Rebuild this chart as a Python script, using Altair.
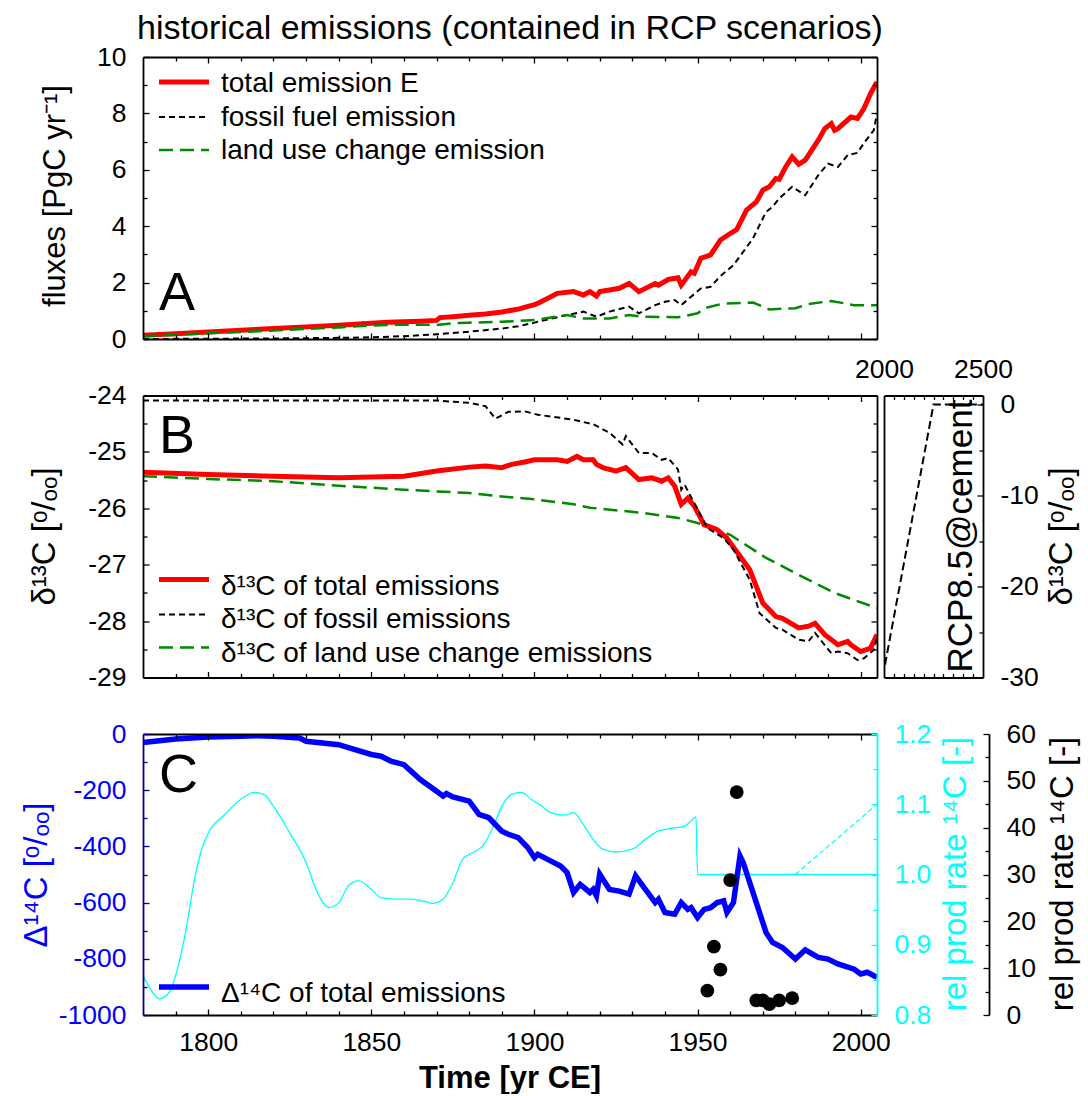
import altair as alt
import pandas as pd

FONT = "Liberation Sans"
RED = "#ff0000"
GREEN = "#008a00"
BLUE = "#0000ff"
NAVY = "#000090"
CYAN = "#00ffff"

# ---------------- shared x range ----------------
X_DOM = [1780, 2005]
X_LABELS = [1800, 1850, 1900, 1950, 2000]
X_MINOR = [1790, 1810, 1820, 1830, 1840, 1860, 1870, 1880, 1890, 1910,
           1920, 1930, 1940, 1960, 1970, 1980, 1990]

# ---------------- panel A: fluxes ----------------
A_Y_DOM = [0, 10]
A_Y_MAJOR = [0, 2, 4, 6, 8, 10]
A_Y_MINOR = [1, 3, 5, 7, 9]
a_total_year = [1780, 1790, 1800, 1810, 1820, 1830, 1840, 1850,
                1855, 1860, 1865, 1870, 1871, 1875, 1880, 1885, 1890, 1895, 1900,
                1901, 1907, 1912, 1915, 1917, 1919, 1920, 1923, 1926, 1929,
                1932, 1937, 1938, 1941, 1944, 1945, 1948, 1949, 1951, 1954,
                1957, 1960, 1962, 1965, 1968, 1970, 1972, 1974, 1975, 1977,
                1979, 1981, 1983, 1987, 1989, 1991, 1992, 1993, 1997, 1999,
                2001, 2003, 2005]
a_total_val = [0.13, 0.19, 0.25, 0.31, 0.37, 0.43, 0.49, 0.56,
               0.59, 0.61, 0.63, 0.66, 0.76, 0.79, 0.84, 0.89, 0.96, 1.06, 1.22,
               1.26, 1.62, 1.68, 1.56, 1.68, 1.52, 1.68, 1.74, 1.80, 1.97,
               1.68, 1.97, 1.91, 2.11, 2.17, 1.91, 2.38, 2.33, 2.86, 2.98,
               3.51, 3.74, 3.88, 4.57, 4.86, 5.28, 5.40, 5.69, 5.66, 6.10,
               6.46, 6.20, 6.34, 7.05, 7.46, 7.64, 7.40, 7.46, 7.87, 7.82,
               8.17, 8.70, 9.11]
a_fossil_year = [1780, 1800, 1820, 1840, 1850, 1860, 1870, 1880, 1890, 1895,
                 1900, 1901, 1910, 1915, 1919, 1923, 1929, 1932, 1937, 1940,
                 1943, 1945, 1948, 1951, 1954, 1957, 1961, 1967, 1971, 1973,
                 1975, 1979, 1983, 1987, 1990, 1993, 1996, 1999, 2001, 2004,
                 2005]
a_fossil_val = [0.00, 0.01, 0.02, 0.04, 0.06, 0.10, 0.17, 0.26, 0.37, 0.45,
                0.58, 0.61, 0.85, 0.97, 0.79, 0.97, 1.15, 0.91, 1.20, 1.32,
                1.38, 1.20, 1.50, 1.79, 1.85, 2.23, 2.62, 3.57, 4.51, 4.69,
                4.98, 5.40, 5.10, 5.81, 6.22, 6.10, 6.52, 6.60, 6.95, 7.40,
                7.99]
a_land_year = [1780, 1800, 1820, 1840, 1850, 1860, 1870, 1875, 1880, 1890,
               1900, 1910, 1915, 1923, 1929, 1933, 1944, 1950, 1952, 1958,
               1967, 1972, 1980, 1984, 1991, 1998, 2005]
a_land_val = [0.10, 0.20, 0.30, 0.41, 0.48, 0.51, 0.50, 0.56, 0.58, 0.61,
              0.67, 0.85, 0.73, 0.73, 0.85, 0.79, 0.77, 0.91, 1.09, 1.26,
              1.29, 1.05, 1.09, 1.24, 1.35, 1.20, 1.20]

# ---------------- panel B: delta13C ----------------
B_Y_DOM = [-29, -24]
B_Y_MAJOR = [-29, -28, -27, -26, -25, -24]
B_Y_MINOR = [-28.5, -27.5, -26.5, -25.5, -24.5]
b_total_year = [1780, 1800, 1820, 1840, 1860, 1870, 1880, 1885, 1890, 1893,
                1897, 1900, 1907, 1910, 1913, 1915, 1918, 1919, 1921, 1925,
                1928, 1932, 1936, 1939, 1941, 1943, 1945, 1947, 1949, 1952,
                1956, 1959, 1966, 1970, 1974, 1976, 1981, 1984, 1986, 1989,
                1993, 1996, 1997, 2000, 2003, 2005]
b_total_val = [-25.36, -25.40, -25.43, -25.46, -25.43, -25.34, -25.27, -25.25, -25.28, -25.22,
               -25.18, -25.14, -25.14, -25.17, -25.08, -25.14, -25.14, -25.22, -25.28, -25.34,
               -25.28, -25.49, -25.46, -25.52, -25.46, -25.61, -25.93, -25.82, -25.96, -26.29,
               -26.38, -26.53, -27.09, -27.68, -27.92, -27.95, -28.12, -28.09, -28.04, -28.24,
               -28.42, -28.36, -28.42, -28.54, -28.48, -28.24]
b_fossil_year = [1780, 1870, 1880, 1885, 1888, 1892, 1897, 1901, 1912, 1918,
                 1923, 1927, 1928, 1932, 1936, 1939, 1941, 1944, 1945, 1946,
                 1950, 1953, 1958, 1961, 1966, 1969, 1974, 1976, 1981, 1984,
                 1986, 1991, 1993, 1996, 1999, 2001, 2004, 2005]
b_fossil_val = [-24.09, -24.09, -24.13, -24.19, -24.41, -24.29, -24.28, -24.34, -24.43, -24.51,
                -24.66, -24.87, -24.72, -25.02, -25.02, -25.14, -25.11, -25.31, -25.67, -25.58,
                -26.02, -26.35, -26.53, -26.73, -27.27, -27.86, -28.12, -28.15, -28.33, -28.36,
                -28.21, -28.57, -28.54, -28.57, -28.69, -28.66, -28.51, -28.30]
b_land_year = [1780, 1800, 1820, 1840, 1860, 1880, 1890, 1900, 1912, 1917,
               1933, 1944, 1950, 1960, 1971, 1982, 1992, 2005]
b_land_val = [-25.43, -25.48, -25.52, -25.60, -25.67, -25.73, -25.79, -25.84, -25.93, -25.99,
              -26.08, -26.17, -26.26, -26.47, -26.88, -27.21, -27.50, -27.77]

# side panel (RCP8.5 extension)
S_X_DOM = [2000, 2500]
S_Y_DOM = [-30, 1]
S_X_LABELS = [2000, 2500]
S_X_MINOR = [2050, 2100, 2150, 2200, 2250, 2300, 2350, 2400, 2450]
S_Y_MAJOR = [0, -10, -20, -30]
S_Y_MINOR = [-5, -15, -25]
side_year = [2005, 2250, 2500]
side_val = [-28.6, 0.0, 0.0]

# ---------------- panel C: delta14C ----------------
C_Y_DOM = [-1000, 0]
C_Y_MAJOR = [-1000, -800, -600, -400, -200, 0]
C_Y_MINOR = [-900, -700, -500, -300, -100]
CY_DOM = [0.8, 1.2]
CY_MAJOR = [0.8, 0.9, 1.0, 1.1, 1.2]
CY_MINOR = [0.85, 0.95, 1.05, 1.15]
K_DOM = [0, 60]
K_MAJOR = [0, 10, 20, 30, 40, 50, 60]
K_MINOR = [5, 15, 25, 35, 45, 55]
c_d14_year = [1780, 1790, 1800, 1810, 1815, 1820, 1828, 1830, 1840, 1845,
              1850, 1853, 1856, 1860, 1865, 1870, 1872, 1873, 1875, 1880,
              1883, 1886, 1890, 1892, 1895, 1898, 1900, 1901, 1903, 1907,
              1908, 1910, 1912, 1914, 1917, 1918, 1919, 1920, 1923, 1926,
              1929, 1931, 1934, 1937, 1938, 1940, 1943, 1945, 1947, 1948,
              1950, 1952, 1954, 1956, 1958, 1959, 1961, 1963, 1964, 1968,
              1971, 1973, 1976, 1980, 1983, 1987, 1990, 1993, 1998, 2000,
              2002, 2005]
c_d14_val = [-30, -18, -11, -8, -6, -8, -14, -26, -38, -56,
             -73, -79, -97, -109, -162, -204, -221, -212, -224, -239,
             -286, -298, -346, -357, -369, -405, -440, -428, -440, -464,
             -470, -493, -564, -535, -564, -553, -576, -499, -553, -559,
             -570, -505, -553, -600, -588, -635, -641, -600, -624, -618,
             -653, -624, -618, -600, -594, -635, -600, -434, -458, -600,
             -707, -742, -760, -801, -768, -795, -801, -818, -837, -854,
             -848, -866]
c_prod_year = [1780, 1783, 1785, 1788, 1790, 1793, 1796, 1798, 1800, 1805,
               1810, 1814, 1817, 1820, 1825, 1830, 1833, 1837, 1840, 1843,
               1846, 1850, 1853, 1857, 1862, 1866, 1869, 1872, 1875, 1878,
               1881, 1884, 1887, 1890, 1893, 1896, 1899, 1902, 1905, 1908,
               1910, 1912, 1915, 1918, 1921, 1925, 1930, 1934, 1938, 1941,
               1946, 1948, 1949.5, 1950, 2005]
c_prod_val = [0.856, 0.832, 0.823, 0.832, 0.856, 0.917, 0.998, 1.036, 1.059, 1.085,
              1.107, 1.117, 1.114, 1.097, 1.059, 1.017, 0.979, 0.953, 0.960, 0.984,
              0.991, 0.979, 0.967, 0.965, 0.965, 0.962, 0.959, 0.965, 0.988, 1.022,
              1.031, 1.040, 1.064, 1.097, 1.114, 1.117, 1.107, 1.098, 1.088, 1.085,
              1.085, 1.088, 1.071, 1.050, 1.036, 1.032, 1.036, 1.050, 1.062, 1.065,
              1.069, 1.076, 1.082, 1.000, 1.000]
c_prod_future_year = [1980, 2005]
c_prod_future_val = [1.0, 1.1]
c_dot_year = [1953, 1955, 1957, 1960, 1962, 1968, 1970, 1972, 1975, 1979]
c_dot_val = [5.2, 14.6, 9.7, 28.8, 47.6, 3.1, 3.1, 2.3, 3.1, 3.6]

# ---------------- helpers ----------------
W, H = 734, 282
SW = 99
TL, TS = 6, 4
LBL = 26.5
LEG = 28
one = pd.DataFrame({"k": [0]})
NUM = "'' + datum.value"


def scale(dom):
    return alt.Scale(domain=dom, nice=False, zero=False)


def series(xs, ys, xdom, ydom, mark="line", **kw):
    d = pd.DataFrame({"x": xs, "y": ys})
    base = alt.Chart(d)
    if mark == "line":
        m = base.mark_line(clip=True, **kw)
    else:
        m = base.mark_circle(clip=True, **kw)
    return m.encode(x=alt.X("x:Q", scale=scale(xdom), axis=None),
                    y=alt.Y("y:Q", scale=scale(ydom), axis=None))


def guide(xdom, ydom, xaxis=None, yaxis=None):
    d = pd.DataFrame({"x": xdom, "y": ydom})
    return alt.Chart(d).mark_point(opacity=0).encode(
        x=alt.X("x:Q", scale=scale(xdom), axis=xaxis),
        y=alt.Y("y:Q", scale=scale(ydom), axis=yaxis))


def ax_dom(orient, color="black"):
    return alt.Axis(orient=orient, domain=True, domainColor=color, domainWidth=1.8,
                    ticks=False, labels=False, grid=False, title=None, zindex=2)


def ax_ticks(orient, values, size, color="black", base=0):
    return alt.Axis(orient=orient, values=values, domain=False, ticks=True,
                    tickSize=size, tickColor=color, tickWidth=1.3, labels=False,
                    grid=False, title=None, offset=base - size, zindex=2)


def ax_labels(orient, values, expr=NUM, color="black", pad=17, base=0, domain=False):
    kw = dict(orient=orient, values=values, domain=domain, ticks=False, tickSize=0,
              labels=True, labelExpr=expr, labelColor=color, labelFont=FONT,
              labelFontSize=LBL, labelPadding=pad, labelFlush=False,
              labelOverlap=False, grid=False, title=None, zindex=2)
    if domain:
        kw.update(domainColor=color, domainWidth=1.8)
    if base:
        kw["offset"] = base
    return alt.Axis(**kw)


def box(xdom, ydom, ymaj, ymin, lcol="black", rdom=None, rmaj=None, rmin=None, rcol="black"):
    rdom = rdom or ydom
    rmaj = ymaj if rmaj is None else rmaj
    rmin = ymin if rmin is None else rmin
    return [
        guide(xdom, ydom, ax_dom("bottom"), ax_dom("left", lcol)),
        guide(xdom, rdom, ax_dom("top"), ax_dom("right", rcol)),
        guide(xdom, ydom, ax_ticks("bottom", X_LABELS, TL), ax_ticks("left", ymaj, TL, lcol)),
        guide(xdom, ydom, ax_ticks("bottom", X_MINOR, TS), ax_ticks("left", ymin, TS, lcol)),
        guide(xdom, rdom, ax_ticks("top", X_LABELS, TL), ax_ticks("right", rmaj, TL, rcol)),
        guide(xdom, rdom, ax_ticks("top", X_MINOR, TS), ax_ticks("right", rmin, TS, rcol)),
    ]


def txt(s, x, y, size, color="black", angle=0, align="left", weight="normal"):
    kw = dict(font=FONT, fontSize=size, color=color, align=align,
              baseline="alphabetic", fontWeight=weight)
    if angle:
        kw["angle"] = angle
    return alt.Chart(one).mark_text(**kw).encode(
        x=alt.value(x), y=alt.value(y), text=alt.value(s))


def leg(y, color, width, dash=None):
    kw = dict(color=color, strokeWidth=width)
    if dash:
        kw["strokeDash"] = dash
    return alt.Chart(one).mark_rule(**kw).encode(
        x=alt.value(16), x2=alt.value(66), y=alt.value(y))


# ---------------- panel A ----------------
panel_a = alt.layer(
    series(a_total_year, a_total_val, X_DOM, A_Y_DOM, color=RED, strokeWidth=5),
    series(a_fossil_year, a_fossil_val, X_DOM, A_Y_DOM, color="black", strokeWidth=2, strokeDash=[6, 4]),
    series(a_land_year, a_land_val, X_DOM, A_Y_DOM, color=GREEN, strokeWidth=2.5, strokeDash=[14, 7]),
    *box(X_DOM, A_Y_DOM, A_Y_MAJOR, A_Y_MINOR),
    guide(X_DOM, A_Y_DOM, None, ax_labels("left", A_Y_MAJOR)),
    leg(25, RED, 5), leg(60, "black", 2, [6, 4]), leg(93, GREEN, 2.5, [14, 7]),
    txt("total emission E", 78, 35, LEG),
    txt("fossil fuel emission", 78, 69, LEG),
    txt("land use change emission", 78, 102, LEG),
    txt("A", 16, 253, 54),
    txt("historical emissions (contained in RCP scenarios)", W / 2, -18, 34, align="center"),
    txt("fluxes [PgC yr\u207b\u00b9]", -78, 139, 31, angle=270, align="center"),
).resolve_axis(x="independent", y="independent").properties(width=W, height=H)

# ---------------- panel B ----------------
panel_b = alt.layer(
    series(b_land_year, b_land_val, X_DOM, B_Y_DOM, color=GREEN, strokeWidth=2.5, strokeDash=[14, 7]),
    series(b_total_year, b_total_val, X_DOM, B_Y_DOM, color=RED, strokeWidth=5),
    series(b_fossil_year, b_fossil_val, X_DOM, B_Y_DOM, color="black", strokeWidth=2, strokeDash=[6, 4]),
    *box(X_DOM, B_Y_DOM, B_Y_MAJOR, B_Y_MINOR),
    guide(X_DOM, B_Y_DOM, None, ax_labels("left", B_Y_MAJOR)),
    leg(184, RED, 5), leg(219, "black", 2, [6, 4]), leg(252, GREEN, 2.5, [14, 7]),
    txt("\u03b4\u00b9\u00b3C of total emissions", 78, 199, LEG),
    txt("\u03b4\u00b9\u00b3C of fossil emissions", 78, 232, LEG),
    txt("\u03b4\u00b9\u00b3C of land use change emissions", 78, 266, LEG),
    txt("B", 16, 57, 54),
    txt("\u03b4\u00b9\u00b3C [\u1d52/\u2092\u2092]", -88, 141, 33, angle=270, align="center"),
).resolve_axis(x="independent", y="independent").properties(width=W, height=H)

panel_side = alt.layer(
    series(side_year, side_val, S_X_DOM, S_Y_DOM, color="black", strokeWidth=2, strokeDash=[8, 4]),
    guide(S_X_DOM, S_Y_DOM, ax_dom("bottom"), ax_dom("left")),
    guide(S_X_DOM, S_Y_DOM, ax_dom("top"), ax_dom("right")),
    guide(S_X_DOM, S_Y_DOM, ax_ticks("bottom", S_X_MINOR, TS), ax_ticks("right", S_Y_MAJOR, TL)),
    guide(S_X_DOM, S_Y_DOM, ax_ticks("top", S_X_MINOR, TS), ax_ticks("right", S_Y_MINOR, TS)),
    guide(S_X_DOM, S_Y_DOM, ax_labels("top", S_X_LABELS, pad=12), ax_labels("right", S_Y_MAJOR)),
    txt("RCP8.5@cement", 88, 277, 35, angle=270),
    txt("\u03b4\u00b9\u00b3C [\u1d52/\u2092\u2092]", 188, 141, 33, angle=270, align="center"),
).resolve_axis(x="independent", y="independent").properties(width=SW, height=H)

# ---------------- panel C ----------------
panel_c = alt.layer(
    series(c_prod_year, c_prod_val, X_DOM, CY_DOM, color=CYAN, strokeWidth=1.3, interpolate="monotone"),
    series(c_prod_future_year, c_prod_future_val, X_DOM, CY_DOM, color=CYAN, strokeWidth=1.2, strokeDash=[5, 3]),
    series(c_d14_year, c_d14_val, X_DOM, C_Y_DOM, color=BLUE, strokeWidth=5.5),
    series(c_dot_year, c_dot_val, X_DOM, K_DOM, mark="circle", color="black", size=190, opacity=1),
    *box(X_DOM, C_Y_DOM, C_Y_MAJOR, C_Y_MINOR, lcol=NAVY, rdom=CY_DOM, rmaj=CY_MAJOR, rmin=CY_MINOR, rcol=CYAN),
    guide(X_DOM, C_Y_DOM, ax_labels("bottom", X_LABELS, pad=14), ax_labels("left", C_Y_MAJOR, color=BLUE)),
    guide(X_DOM, CY_DOM, None, ax_labels("right", CY_MAJOR, expr="format(datum.value, '.1f')", color=CYAN)),
    guide(X_DOM, K_DOM, None, ax_labels("right", K_MAJOR, base=112, domain=True)),
    guide(X_DOM, K_DOM, None, ax_ticks("right", K_MAJOR, TL, base=112)),
    guide(X_DOM, K_DOM, None, ax_ticks("right", K_MINOR, TS, base=112)),
    leg(253, BLUE, 5.5),
    txt("\u0394\u00b9\u2074C of total emissions", 78, 268, LEG),
    txt("C", 16, 58, 54),
    txt("\u0394\u00b9\u2074C [\u1d52/\u2092\u2092]", -96, 141, 33, color=BLUE, angle=270, align="center"),
    txt("rel prod rate \u00b9\u2074C [-]", 823, 140, 33, color=CYAN, angle=270, align="center"),
    txt("rel prod rate \u00b9\u2074C [-]", 930, 140, 33, angle=270, align="center"),
    txt("Time [yr CE]", W / 2, 354, 31, align="center", weight="bold"),
).resolve_scale(y="independent").resolve_axis(x="independent", y="independent").properties(width=W, height=281)


def blank(h):
    return alt.Chart(one).mark_point(opacity=0).encode(
        x=alt.value(0), y=alt.value(0)).properties(width=SW, height=h)


chart = alt.concat(
    panel_a, blank(H), panel_b, panel_side, panel_c, blank(281),
    columns=2, spacing={"row": 56.5, "column": 7}, align="each", bounds="flush",
    padding={"left": 21, "top": 12, "right": 0, "bottom": 0},
    background="white",
).configure_view(stroke="transparent", strokeWidth=0)

chart.save("out.html", embed_options={"renderer": "svg", "actions": False})
